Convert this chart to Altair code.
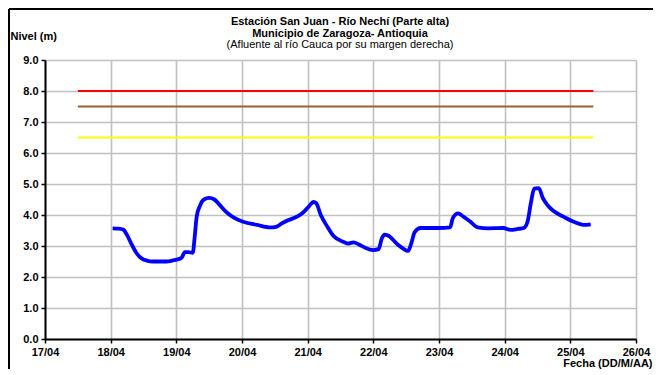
import altair as alt
import pandas as pd

# Serie de niveles: días transcurridos desde el 17/04 a las 00:00 y nivel (m)
dias = [1.03, 1.12, 1.19, 1.25, 1.32, 1.40, 1.47, 1.55, 1.65, 1.75, 1.85, 1.94,
        2.02, 2.08, 2.13, 2.18, 2.25, 2.28, 2.31, 2.36, 2.42, 2.50, 2.58, 2.65,
        2.75, 2.87, 3.02, 3.23, 3.43, 3.52, 3.60, 3.69, 3.86, 3.95, 4.02, 4.09,
        4.13, 4.20, 4.30, 4.39, 4.55, 4.62, 4.70, 4.78, 4.87, 5.00, 5.08, 5.13,
        5.17, 5.23, 5.37, 5.45, 5.53, 5.58, 5.63, 5.72, 5.87, 6.00, 6.17, 6.21,
        6.29, 6.37, 6.47, 6.59, 6.75, 6.98, 7.09, 7.20, 7.29, 7.35, 7.40, 7.45,
        7.52, 7.58, 7.66, 7.75, 7.90, 8.05, 8.20, 8.31]
nivel = [3.57, 3.56, 3.53, 3.35, 3.05, 2.75, 2.60, 2.53, 2.50, 2.50, 2.50, 2.53,
         2.57, 2.62, 2.80, 2.80, 2.78, 3.30, 3.95, 4.30, 4.50, 4.55, 4.50, 4.35,
         4.12, 3.92, 3.78, 3.68, 3.60, 3.62, 3.72, 3.82, 3.97, 4.12, 4.28, 4.42,
         4.38, 4.00, 3.62, 3.33, 3.13, 3.08, 3.12, 3.05, 2.95, 2.87, 2.90, 3.25,
         3.37, 3.33, 3.05, 2.92, 2.84, 3.10, 3.45, 3.58, 3.58, 3.58, 3.60, 3.90,
         4.05, 3.95, 3.80, 3.60, 3.57, 3.58, 3.52, 3.55, 3.58, 3.80, 4.40, 4.85,
         4.87, 4.55, 4.30, 4.12, 3.94, 3.78, 3.68, 3.70]

# Umbrales
umbral_valor = [8.0, 7.5, 6.5]
umbral_nombre = ["rojo", "naranja", "amarillo"]
umbral_color = ["#ff0000", "#a0602e", "#ffff00"]
umbral_inicio = [0.5, 0.5, 0.5]
umbral_fin = [8.35, 8.35, 8.35]

# Etiquetas del eje x y valores del eje y
etiquetas_x = ["17/04", "18/04", "19/04", "20/04", "21/04", "22/04",
               "23/04", "24/04", "25/04", "26/04"]
valores_y = [0, 1, 2, 3, 4, 5, 6, 7, 8, 9]

# Títulos
titulos = ["Estación San Juan  - Río Nechí (Parte alta)",
           "Municipio de Zaragoza- Antioquia",
           "(Afluente al río Cauca por su margen derecha)"]

W, H = 591, 279
FONT = "Liberation Sans"

serie = pd.DataFrame({"dia": dias, "nivel": nivel})
umbrales = pd.DataFrame({"valor": umbral_valor, "nombre": umbral_nombre,
                         "inicio": umbral_inicio, "fin": umbral_fin})

label_expr = "[" + ",".join("'" + e + "'" for e in etiquetas_x) + "][round(datum.value)]"

xscale = alt.Scale(domain=[0, 9], nice=False, zero=False)
yscale = alt.Scale(domain=[0, 9], nice=False)

xaxis = alt.Axis(values=list(range(10)), labelExpr=label_expr,
                 title="Fecha (DD/M/AA)", titleAngle=0, titleAlign="right",
                 titleX=W + 16, titleY=24, titleBaseline="middle",
                 labelFont=FONT, labelFontSize=11, labelFontWeight="bold",
                 labelColor="black", labelPadding=3, labelFlush=False,
                 labelOverlap=False,
                 titleFont=FONT, titleFontSize=11, titleFontWeight="bold",
                 titleColor="black",
                 grid=True, gridColor="#c0c0c0", gridWidth=1.6,
                 domainColor="black", domainWidth=2,
                 tickColor="black", tickSize=4, tickWidth=1.5)
yaxis = alt.Axis(values=valores_y, format=".1f",
                 title="Nivel (m)", titleAngle=0, titleAlign="left",
                 titleX=-35, titleY=-24, titleBaseline="middle",
                 labelFont=FONT, labelFontSize=11, labelFontWeight="bold",
                 labelColor="black", labelPadding=3, labelOverlap=False,
                 titleFont=FONT, titleFontSize=11, titleFontWeight="bold",
                 titleColor="black",
                 grid=True, gridColor="#c0c0c0", gridWidth=1.6,
                 domainColor="black", domainWidth=2,
                 tickColor="black", tickSize=4, tickWidth=1.5)

lineas_umbral = alt.Chart(umbrales).mark_rule(strokeWidth=2.2).encode(
    x=alt.X("inicio:Q", scale=xscale, axis=xaxis),
    x2="fin:Q",
    y=alt.Y("valor:Q", scale=yscale, axis=yaxis),
    color=alt.Color("nombre:N", scale=alt.Scale(domain=umbral_nombre, range=umbral_color), legend=None),
)

linea = alt.Chart(serie).mark_line(color="#0000ff", strokeWidth=3.8, interpolate="monotone").encode(
    x=alt.X("dia:Q", scale=xscale, axis=xaxis),
    y=alt.Y("nivel:Q", scale=yscale, axis=yaxis),
)

def linea_titulo(texto, ypos, peso):
    return alt.Chart(pd.DataFrame({"t": [texto]})).mark_text(
        font=FONT, fontSize=11, color="black", fontWeight=peso,
        align="center", baseline="middle").encode(
        text="t:N", x=alt.value(295), y=alt.value(ypos))

t1 = linea_titulo(titulos[0], -38, "bold")
t2 = linea_titulo(titulos[1], -26, "bold")
t3 = linea_titulo(titulos[2], -15, "normal")

marco = alt.Chart(pd.DataFrame({"a": [0]})).mark_rule(color="black", strokeWidth=2).encode(
    x=alt.value(-36), y=alt.value(-51), y2=alt.value(H + 40))
marco_sup = alt.Chart(pd.DataFrame({"a": [0]})).mark_rule(color="black", strokeWidth=2).encode(
    x=alt.value(-36), x2=alt.value(W + 30), y=alt.value(-51))

chart = alt.layer(lineas_umbral, linea, t1, t2, t3, marco, marco_sup).properties(
    width=W, height=H,
    autosize=alt.AutoSizeParams(type="none"),
    padding={"left": 37, "top": 52, "right": 17, "bottom": 30},
).configure_view(stroke="#808080", strokeWidth=2).configure(background="white")

chart.save("out.html", embed_options={"renderer": "svg", "actions": False})
